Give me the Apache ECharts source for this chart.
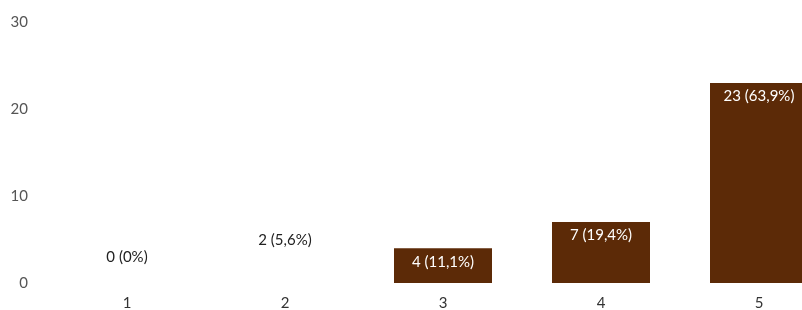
<!DOCTYPE html>
<html>
<head>
<meta charset="utf-8">
<script src="https://cdn.jsdelivr.net/npm/echarts@6/dist/echarts.min.js"></script>
<style>
  html, body { margin: 0; padding: 0; background: #fff; }
  #main { width: 802px; height: 310px; }
</style>
</head>
<body>
<div id="main"></div>
<script>
var categories = ['1', '2', '3', '4', '5'];
var counts = [0, 2, 4, 7, 23];
var percents = ['0%', '5,6%', '11,1%', '19,4%', '63,9%'];
var yTicks = [0, 10, 20, 30];

var chart = echarts.init(document.getElementById('main'));

var seriesData = counts.map(function (v, i) {
    var outside = v < 3;
    return {
        value: v,
        // the second bar is not drawn in the picture, only its label
        itemStyle: i === 1 ? { color: 'rgba(0,0,0,0)' } : {},
        label: outside
            ? { position: 'top', distance: 18, color: '#222' }
            : { position: 'insideTop', distance: 6, color: '#fff' }
    };
});

var option = {
    animation: false,
    textStyle: { fontFamily: 'Lato' },
    // the last bar runs past the right edge in the picture
    grid: { left: 48, width: 790, top: 22, bottom: 27, outerBoundsMode: 'none' },
    xAxis: {
        type: 'category',
        data: categories,
        axisLine: { show: false },
        axisTick: { show: false },
        axisLabel: { color: '#333', fontSize: 15, margin: 13, fontFamily: 'Lato' }
    },
    yAxis: {
        type: 'value',
        min: yTicks[0],
        max: yTicks[yTicks.length - 1],
        interval: 10,
        splitLine: { show: false },
        axisLine: { show: false },
        axisTick: { show: false },
        axisLabel: { color: '#555', fontSize: 15, margin: 20, fontFamily: 'Lato' }
    },
    series: [{
        type: 'bar',
        barWidth: 98,
        data: seriesData,
        itemStyle: { color: '#5c2a07' },
        label: {
            show: true,
            fontSize: 15,
            fontFamily: 'Lato',
            formatter: function (p) {
                return counts[p.dataIndex] + ' (' + percents[p.dataIndex] + ')';
            }
        }
    }]
};

chart.setOption(option);
</script>
</body>
</html>
